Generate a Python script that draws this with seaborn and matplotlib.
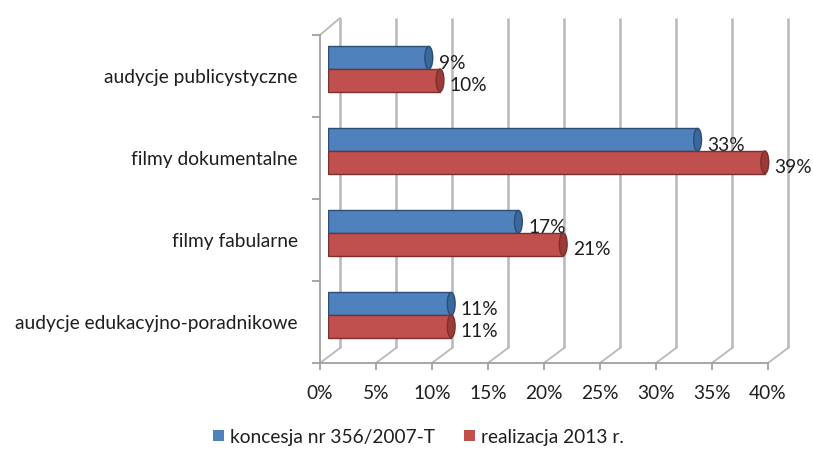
import matplotlib
matplotlib.use("Agg")
import matplotlib.pyplot as plt
import seaborn as sns
import pandas as pd
from matplotlib.patches import Patch, Ellipse

categories = ["audycje publicystyczne", "filmy dokumentalne", "filmy fabularne",
              "audycje edukacyjno-poradnikowe"]
series = ["koncesja nr 356/2007-T", "realizacja 2013 r."]
koncesja = [0.09, 0.33, 0.17, 0.11]
realizacja = [0.10, 0.39, 0.21, 0.11]
xticks = [0, 0.05, 0.10, 0.15, 0.20, 0.25, 0.30, 0.35, 0.40]
xticklabels = ["0%", "5%", "10%", "15%", "20%", "25%", "30%", "35%", "40%"]
value_labels_k = ["9%", "33%", "17%", "11%"]
value_labels_r = ["10%", "39%", "21%", "11%"]

sns.set_theme(style="white")
plt.rcParams['font.family'] = ['Lato', 'DejaVu Sans']
FS = 13.8

W, H = 813, 453
fig = plt.figure(figsize=(W / 100, H / 100), dpi=100)

def rect(l, r, t, b):
    return [l / W, 1 - b / H, (r - l) / W, (b - t) / H]

grid_col = "#b8b8b8"
txt_col = "#1e1e1e"

# decorative 3D frame in pixel coords (back wall grid, floor)
deco = fig.add_axes([0, 0, 1, 1])
deco.set_xlim(0, W)
deco.set_ylim(H, 0)
deco.axis("off")
front_l, front_r, front_b, front_t = 320, 768, 363, 35
back_l, back_r, back_b, back_t = 340, 788, 348, 18
n = len(xticks)
for i in range(n):
    xf = front_l + (front_r - front_l) * i / (n - 1)
    xb = back_l + (back_r - back_l) * i / (n - 1)
    deco.plot([xb, xb], [back_t, back_b], color=grid_col, lw=1.8, solid_capstyle="butt")
    deco.plot([xf, xb], [front_b, back_b], color=grid_col, lw=1.3)
deco.plot([front_l, back_l], [front_t, back_t], color=grid_col, lw=1.3)

# front axis (ticks, labels)
axf = fig.add_axes(rect(front_l, front_r, front_t, front_b))
axf.set_xlim(0, 0.40)
axf.set_ylim(len(categories) - 0.5, -0.5)
axf.patch.set_alpha(0)
for s in ["top", "right"]:
    axf.spines[s].set_visible(False)
for s in ["left", "bottom"]:
    axf.spines[s].set_color("#a0a0a0")
    axf.spines[s].set_linewidth(1.3)
axf.set_xticks(xticks)
axf.set_xticklabels(xticklabels, fontsize=FS, color=txt_col)
axf.set_yticks([i for i in range(len(categories))])
axf.set_yticklabels(categories, fontsize=FS, color=txt_col)
axf.tick_params(axis="y", length=0, pad=16)
axf.tick_params(axis="x", length=5, color="#a0a0a0", width=1.3, pad=11, direction="out")
axf.set_yticks([i - 0.5 for i in range(len(categories) + 1)], minor=True)
axf.tick_params(axis="y", which="minor", length=6, color="#a0a0a0", width=1.3, direction="out")
axf.xaxis.set_ticks_position("bottom")
axf.yaxis.set_ticks_position("left")

# bars on the mid-depth plane
df = pd.DataFrame({
    "category": categories * 2,
    "series": [series[0]] * len(categories) + [series[1]] * len(categories),
    "value": koncesja + realizacja,
})
colors = {series[0]: "#4f81bd", series[1]: "#c0504d"}
edges = {series[0]: "#2c4d75", series[1]: "#7d2f2d"}
caps = {series[0]: "#3a679c", series[1]: "#9c3a37"}
axb = fig.add_axes(rect(328, 776, 28, 356))
sns.barplot(data=df, y="category", x="value", hue="series", order=categories,
            hue_order=series, palette=colors, orient="h", width=0.55,
            ax=axb, legend=False, saturation=1)
axb.set_xlim(0, 0.40)
axb.set_ylim(len(categories) - 0.5, -0.5)
axb.axis("off")
axb.patch.set_alpha(0)
for cont, ser, labs in zip(axb.containers, series, [value_labels_k, value_labels_r]):
    for bar in cont:
        bar.set_edgecolor(edges[ser])
        bar.set_linewidth(1.0)
        x0, y0, w, h = bar.get_x(), bar.get_y(), bar.get_width(), bar.get_height()
        axb.add_patch(Ellipse((x0 + w, y0 + h / 2), 0.007, h, facecolor=caps[ser],
                              edgecolor=edges[ser], lw=1.0, zorder=bar.get_zorder() + 0.1))
    texts = axb.bar_label(cont, labels=labs, padding=7, fontsize=FS, color=txt_col)
    for t in texts:
        t.xyann = (t.xyann[0], -4)

handles = [Patch(facecolor=colors[s], edgecolor="none", label=s) for s in series]
fig.legend(handles=handles, loc="center", bbox_to_anchor=(0.515, 1 - 437 / H), ncol=2,
           frameon=False, fontsize=FS, handlelength=0.55, handleheight=0.55,
           handletextpad=0.35, columnspacing=1.5, labelcolor=txt_col)

fig.savefig("out.png", dpi=100)
